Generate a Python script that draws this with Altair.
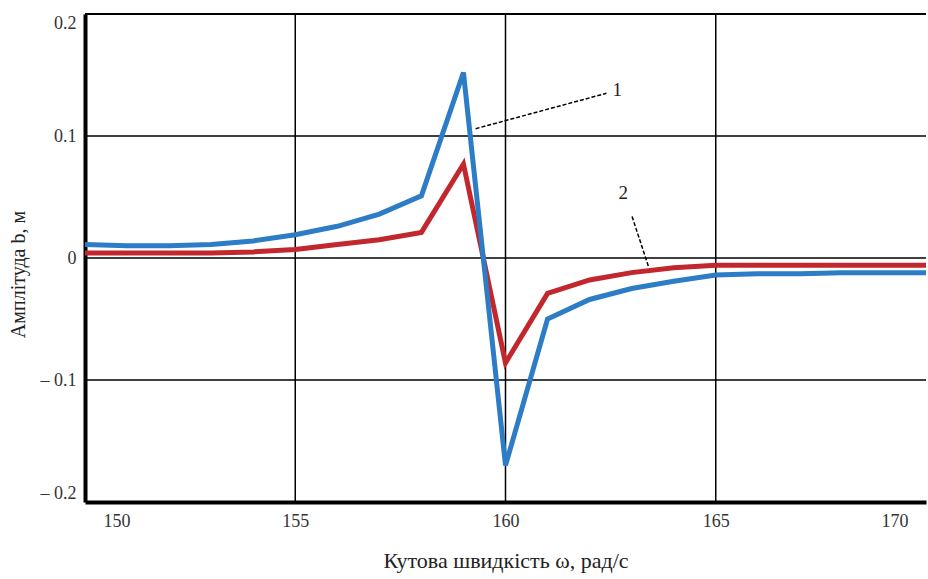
import altair as alt
import pandas as pd

# ---- data ----
omega = [150, 151, 152, 153, 154, 155, 156, 157, 158, 159, 160,
         161, 162, 163, 164, 165, 166, 167, 168, 169, 170]
b_curve1 = [0.011, 0.010, 0.010, 0.011, 0.014, 0.019, 0.026, 0.036, 0.051, 0.152, -0.170,
            -0.050, -0.034, -0.025, -0.019, -0.014, -0.013, -0.013, -0.012, -0.012, -0.012]
b_curve2 = [0.004, 0.004, 0.004, 0.004, 0.005, 0.007, 0.011, 0.015, 0.021, 0.077, -0.086,
            -0.029, -0.018, -0.012, -0.008, -0.006, -0.006, -0.006, -0.006, -0.006, -0.006]

x_ticks = [150, 155, 160, 165, 170]
y_ticks = [-0.2, -0.1, 0, 0.1, 0.2]
x_grid = [155, 160, 165]
y_grid = [-0.1, 0, 0.1]
y_top = [0.2]

ann_labels = ["1", "2"]
ann_x = [162.66, 162.80]
ann_y = [0.138, 0.053]
lead_x = [159.29, 163.01]
lead_y = [0.106, 0.034]
lead_x2 = [162.40, 163.41]
lead_y2 = [0.135, -0.008]

BLUE = "#2c7cc6"
RED = "#c1272d"
FONT = "Liberation Serif"
X_TITLE = "Кутова швидкість ω, рад/с"
Y_TITLE = "Амплітуда b, м"

df = pd.DataFrame({"omega": omega * 2,
                   "b": b_curve2 + b_curve1,
                   "curve": ["2"] * len(omega) + ["1"] * len(omega)})
df_xgrid = pd.DataFrame({"x": x_grid})
df_ygrid = pd.DataFrame({"y": y_grid})
df_top = pd.DataFrame({"y": y_top, "x": [x_ticks[0]], "x2": [x_ticks[-1]]})
df_ann = pd.DataFrame({"label": ann_labels, "x": ann_x, "y": ann_y,
                       "lx": lead_x, "ly": lead_y, "lx2": lead_x2, "ly2": lead_y2})

xs = alt.Scale(domain=[150, 170], nice=False, zero=False)
ys = alt.Scale(domain=[-0.2, 0.2], nice=False, zero=False)

y_label_expr = ("datum.value < 0 ? '\u2013 ' + format(abs(datum.value), '.1f') : "
                "(datum.value == 0 ? '0' : format(datum.value, '.1f'))")

x_axis = alt.Axis(values=x_ticks, grid=False, ticks=False, domain=True,
                  labelPadding=10, labelFlush=True, labelFlushOffset=-18,
                  format="d", title=X_TITLE, titleY=58, titleBaseline="middle")
y_axis = alt.Axis(values=y_ticks, grid=False, ticks=False, domain=True,
                  labelPadding=9, labelFlush=True, labelExpr=y_label_expr,
                  title=Y_TITLE, titleAngle=270, titleX=-67, titleY=260,
                  titleAlign="center", titleBaseline="middle")


def X(field):
    return alt.X(field, scale=xs, axis=x_axis, title=X_TITLE)


def Y(field):
    return alt.Y(field, scale=ys, axis=y_axis, title=Y_TITLE)


vgrid = alt.Chart(df_xgrid).mark_rule(color="black", strokeWidth=1.5).encode(
    x=X("x:Q"))
hgrid = alt.Chart(df_ygrid).mark_rule(color="black", strokeWidth=1.5).encode(
    y=Y("y:Q"))
top = alt.Chart(df_top).mark_rule(color="black", strokeWidth=2).encode(
    y=Y("y:Q"), x=X("x:Q"), x2="x2:Q")

lines = alt.Chart(df).mark_line(strokeWidth=5, strokeJoin="miter").encode(
    x=X("omega:Q"),
    y=Y("b:Q"),
    color=alt.Color("curve:N", scale=alt.Scale(domain=["1", "2"], range=[BLUE, RED]),
                    legend=None),
    order=alt.Order("curve:N", sort="descending"),
    detail="curve:N")

leaders = alt.Chart(df_ann).mark_rule(color="black", strokeWidth=1.5,
                                       strokeDash=[4, 2]).encode(
    x=X("lx:Q"), y=Y("ly:Q"), x2="lx2:Q", y2="ly2:Q")
labels = alt.Chart(df_ann).mark_text(font=FONT, fontSize=19, color="#222222",
                                     align="center", baseline="middle").encode(
    x=X("x:Q"), y=Y("y:Q"), text="label:N")

chart = alt.layer(vgrid, hgrid, top, lines, leaders, labels).properties(
    width=841, height=488,
    autosize=alt.AutoSizeParams(type="none"),
    padding={"left": 85, "top": 14, "right": 2, "bottom": 77},
    background="white"
).configure_view(stroke=None).configure_axis(
    domainColor="black", domainWidth=4,
    labelFont=FONT, labelFontSize=18, labelColor="#333333",
    titleFont=FONT, titleFontWeight="normal", titleColor="#222222"
).configure_axisX(titleFontSize=22).configure_axisY(titleFontSize=20)

chart.save("out.html", embed_options={"renderer": "svg", "actions": False})
